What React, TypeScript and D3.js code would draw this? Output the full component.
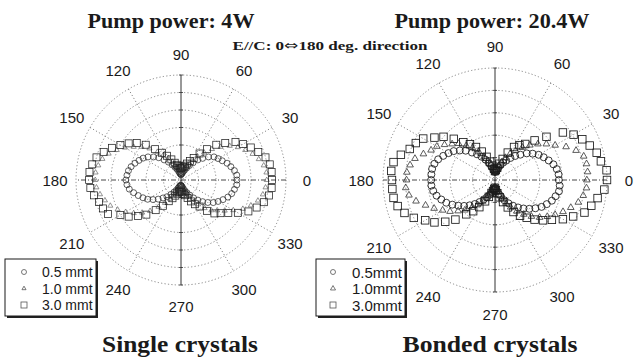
import React from 'react';
import * as d3 from 'd3';

// measurement angles (deg), 5 deg steps
const angles = d3.range(0, 360, 5);
const angleTicks = [0, 30, 60, 90, 120, 150, 180, 210, 240, 270, 300, 330];

// Single crystals, 4 W (radius in ring units, 6 rings)
const single05 = [
  3.2, 3.2, 3.1, 2.95, 2.8, 2.6, 2.45, 2.3, 2.05, 1.75, 1.5, 1.2, 0.95, 0.75, 0.6, 0.5, 0.4, 0.35,
  0.3, 0.35, 0.4, 0.5, 0.65, 0.8, 1.0, 1.25, 1.5, 1.8, 2.05, 2.3, 2.5, 2.65, 2.8, 2.95, 3.05, 3.1,
  3.15, 3.1, 3.0, 2.8, 2.6, 2.4, 2.2, 1.95, 1.7, 1.45, 1.25, 1.0, 0.8, 0.65, 0.5, 0.4, 0.35, 0.3,
  0.3, 0.35, 0.4, 0.5, 0.65, 0.8, 1.0, 1.25, 1.5, 1.75, 2.0, 2.25, 2.45, 2.65, 2.85, 3.0, 3.1, 3.2,
];
const single10 = [
  4.9, 4.9, 4.8, 4.6, 4.35, 4.05, 3.75, 3.4, 2.95, 2.5, 2.05, 1.65, 1.3, 1.05, 0.85, 0.7, 0.6, 0.55,
  0.5, 0.55, 0.65, 0.8, 0.95, 1.15, 1.45, 1.75, 2.1, 2.55, 2.95, 3.3, 3.7, 4.05, 4.4, 4.65, 4.8, 4.9,
  4.9, 4.85, 4.7, 4.5, 4.3, 4.0, 3.65, 3.3, 2.9, 2.5, 2.0, 1.6, 1.25, 1.0, 0.8, 0.65, 0.6, 0.55,
  0.5, 0.55, 0.6, 0.75, 0.95, 1.2, 1.45, 1.7, 2.1, 2.45, 2.7, 3.05, 3.45, 3.9, 4.25, 4.55, 4.75, 4.85,
];
const single30 = [
  5.2, 5.2, 5.15, 5.0, 4.7, 4.4, 4.1, 3.8, 3.3, 2.85, 2.3, 1.85, 1.45, 1.2, 1.0, 0.85, 0.75, 0.7,
  0.65, 0.7, 0.8, 0.9, 1.05, 1.3, 1.6, 1.9, 2.3, 2.85, 3.3, 3.65, 4.0, 4.35, 4.7, 5.0, 5.15, 5.25,
  5.25, 5.2, 5.05, 4.85, 4.75, 4.6, 4.0, 3.65, 3.2, 2.8, 2.25, 1.8, 1.4, 1.15, 0.95, 0.8, 0.7, 0.65,
  0.6, 0.7, 0.8, 0.9, 1.1, 1.35, 1.6, 1.85, 2.3, 2.7, 2.95, 3.3, 3.75, 4.25, 4.6, 4.9, 5.1, 5.2,
];

// Bonded crystals, 20.4 W (radius in ring units, 5 rings)
const bonded05 = [
  2.85, 2.85, 2.8, 2.7, 2.55, 2.4, 2.25, 2.05, 1.85, 1.6, 1.4, 1.2, 1.0, 0.85, 0.7, 0.55, 0.45, 0.4,
  0.35, 0.4, 0.5, 0.65, 0.8, 1.0, 1.2, 1.4, 1.6, 1.85, 2.05, 2.25, 2.4, 2.55, 2.7, 2.8, 2.85, 2.85,
  2.85, 2.85, 2.8, 2.7, 2.55, 2.4, 2.2, 2.0, 1.8, 1.6, 1.4, 1.2, 1.0, 0.85, 0.7, 0.55, 0.45, 0.4,
  0.35, 0.4, 0.5, 0.65, 0.8, 1.0, 1.2, 1.4, 1.6, 1.8, 2.0, 2.2, 2.4, 2.55, 2.7, 2.8, 2.9, 2.9,
];
const bonded10 = [
  4.1, 4.15, 4.15, 4.1, 3.85, 3.5, 3.1, 2.8, 2.5, 2.2, 1.9, 1.6, 1.35, 1.1, 0.85, 0.65, 0.5, 0.4,
  0.35, 0.4, 0.55, 0.7, 0.9, 1.15, 1.45, 1.75, 2.0, 2.3, 2.5, 2.75, 3.0, 3.15, 3.4, 3.7, 3.85, 3.95,
  3.95, 4.0, 3.9, 3.65, 3.3, 3.0, 2.7, 2.45, 2.15, 1.9, 1.6, 1.35, 1.1, 0.85, 0.65, 0.5, 0.4, 0.35,
  0.3, 0.4, 0.55, 0.7, 0.9, 1.15, 1.4, 1.7, 2.0, 2.3, 2.6, 2.85, 3.1, 3.35, 3.6, 3.85, 4.0, 4.1,
];
const bonded30 = [
  5.0, 5.0, 4.8, 4.7, 4.5, 4.3, 4.05, 3.7, 3.0, 2.5, 2.1, 1.9, 1.7, 1.35, 1.0, 0.75, 0.55, 0.45,
  0.4, 0.5, 0.65, 0.85, 1.1, 1.4, 1.7, 1.95, 2.2, 2.6, 3.0, 3.3, 3.7, 3.9, 4.05, 4.35, 4.6, 4.65,
  4.6, 4.6, 4.6, 4.5, 4.3, 4.0, 3.6, 3.3, 2.9, 2.5, 2.0, 1.7, 1.4, 1.05, 0.8, 0.6, 0.5, 0.4,
  0.35, 0.45, 0.6, 0.8, 1.05, 1.35, 1.65, 1.95, 2.2, 2.5, 2.8, 3.1, 3.5, 3.85, 4.25, 4.45, 4.65, 4.9,
];

const singleLabels = ['0.5 mmt', '1.0 mmt', '3.0 mmt'];
const bondedLabels = ['0.5mmt', '1.0mmt', '3.0mmt'];

const SERIF = '"Liberation Serif", "Times New Roman", "DejaVu Serif", serif';
const SANS = '"Liberation Sans", Arial, Helvetica, sans-serif';
const INK = '#1a1a1a';

type Shape = 'circle' | 'triangle' | 'square';

const Marker: React.FC<{ x: number; y: number; shape: Shape; size: number; color?: string; sw?: number }> = ({ x, y, shape, size, color = INK, sw = 0.8 }) => {
  if (shape === 'circle') {
    return <circle cx={x} cy={y} r={size / 2} fill="none" stroke={color} strokeWidth={sw} />;
  }
  if (shape === 'square') {
    return <rect x={x - size / 2} y={y - size / 2} width={size} height={size} fill="none" stroke={color} strokeWidth={sw} />;
  }
  const tri = d3.symbol(d3.symbolTriangle, size * size * 0.45)();
  return <path d={tri || ''} transform={`translate(${x},${y})`} fill="none" stroke={color} strokeWidth={sw} />;
};

interface PanelProps {
  cx: number;
  cy: number;
  R: number;
  rings: number;
  labelR: number;
  series: { values: number[]; shape: Shape; size: number; color?: string; sw?: number }[];
}

const PolarPanel: React.FC<PanelProps> = ({ cx, cy, R, rings, labelR, series }) => {
  const r = d3.scaleLinear().domain([0, rings]).range([0, R]);
  const rad = (deg: number) => (deg * Math.PI) / 180;
  const px = (deg: number, v: number) => cx + r(v) * Math.cos(rad(deg));
  const py = (deg: number, v: number) => cy - r(v) * Math.sin(rad(deg));
  const ringVals = d3.range(1, rings + 1);

  return (
    <g>
      {/* rings */}
      {ringVals.map(v => (
        <circle key={v} cx={cx} cy={cy} r={r(v)} fill="none" stroke="#6a6a6a" strokeWidth={0.8} strokeDasharray="1.2,2.2" />
      ))}
      {/* spokes */}
      {[30, 60, 120, 150].map(a => (
        <line key={a} x1={px(a, rings)} y1={py(a, rings)} x2={px(a + 180, rings)} y2={py(a + 180, rings)}
          stroke="#6a6a6a" strokeWidth={0.8} strokeDasharray="1.2,2.2" />
      ))}
      <line x1={px(0, rings)} y1={cy} x2={px(180, rings)} y2={cy} stroke="#333" strokeWidth={0.9} strokeDasharray="5,2,1,2" />
      <line x1={cx} y1={py(90, rings)} x2={cx} y2={py(270, rings)} stroke="#333" strokeWidth={1} />
      {ringVals.map(v => (
        <g key={'t' + v}>
          <line x1={cx - 2} x2={cx + 2} y1={py(90, v)} y2={py(90, v)} stroke="#333" strokeWidth={0.8} />
          <line x1={cx - 2} x2={cx + 2} y1={py(270, v)} y2={py(270, v)} stroke="#333" strokeWidth={0.8} />
        </g>
      ))}
      {/* angle labels */}
      {angleTicks.map(a => (
        <text key={a} x={cx + labelR * Math.cos(rad(a))} y={cy - labelR * Math.sin(rad(a))}
          textAnchor="middle" dominantBaseline="central" fontFamily={SANS} fontSize={15} fill={INK}>
          {a}
        </text>
      ))}
      {/* data */}
      {series.map((s, si) => (
        <g key={si}>
          {s.values.map((v, i) => (
            <Marker key={i} x={px(angles[i], v)} y={py(angles[i], v)} shape={s.shape} size={s.size} color={s.color} sw={s.sw} />
          ))}
        </g>
      ))}
    </g>
  );
};

const Legend: React.FC<{ x: number; y: number; w: number; h: number; labels: string[]; mx: number; tx: number; fs: number; sizes: number[] }> = ({ x, y, w, h, labels, mx, tx, fs, sizes }) => {
  const shapes: Shape[] = ['circle', 'triangle', 'square'];
  const rowY = [y + 13, y + 29.5, y + 46];
  return (
    <g>
      <rect x={x + 2} y={y + 2} width={w} height={h} fill="#222" />
      <rect x={x} y={y} width={w} height={h} fill="#fff" stroke={INK} strokeWidth={1} />
      {labels.map((l, i) => (
        <g key={l}>
          <Marker x={mx} y={rowY[i]} shape={shapes[i]} size={sizes[i]} color="#555" />
          <text x={tx} y={rowY[i]} dominantBaseline="central" fontFamily={SANS} fontSize={fs} fill={INK}>{l}</text>
        </g>
      ))}
    </g>
  );
};

export default function App() {
  return (
    <svg width={635} height={360} style={{ display: 'block', position: 'absolute', left: 0, top: 0, background: '#fff' }}>
      <rect width={635} height={360} fill="#fff" />
      <PolarPanel cx={181} cy={180} R={105} rings={6} labelR={126}
        series={[
          { values: single05, shape: 'circle', size: 6, color: '#222', sw: 0.7 },
          { values: single10, shape: 'triangle', size: 5, color: '#666', sw: 0.7 },
          { values: single30, shape: 'square', size: 7, color: '#222', sw: 0.75 },
        ]} />
      <PolarPanel cx={495} cy={180} R={112} rings={5} labelR={134}
        series={[
          { values: bonded05, shape: 'circle', size: 7, sw: 0.85 },
          { values: bonded10, shape: 'triangle', size: 6.5, color: '#333', sw: 0.8 },
          { values: bonded30, shape: 'square', size: 7.5, sw: 0.85 },
        ]} />

      <Legend x={5} y={259} w={91} h={57} labels={singleLabels} mx={24} tx={42} fs={14} sizes={[5, 4, 6]} />
      <Legend x={316} y={259} w={89} h={57} labels={bondedLabels} mx={333} tx={352} fs={15} sizes={[5, 5, 6]} />

      <text x={171} y={28} textAnchor="middle" fontFamily={SERIF} fontWeight="bold" fontSize={21} fill={INK}
        textLength={167} lengthAdjust="spacingAndGlyphs">Pump power: 4W</text>
      <text x={492} y={28} textAnchor="middle" fontFamily={SERIF} fontWeight="bold" fontSize={21} fill={INK}
        textLength={195} lengthAdjust="spacingAndGlyphs">Pump power: 20.4W</text>
      <text x={330} y={50} textAnchor="middle" fontFamily={SERIF} fontWeight="bold" fontSize={13} fill={INK}
        textLength={195} lengthAdjust="spacingAndGlyphs">
        E//C: 0<tspan fontFamily='"DejaVu Sans", sans-serif' fontWeight="normal">⇔</tspan>180 deg. direction
      </text>
      <text x={180} y={352} textAnchor="middle" fontFamily={SERIF} fontWeight="bold" fontSize={24} fill={INK}
        textLength={156} lengthAdjust="spacingAndGlyphs">Single crystals</text>
      <text x={490} y={352} textAnchor="middle" fontFamily={SERIF} fontWeight="bold" fontSize={24} fill={INK}
        textLength={175} lengthAdjust="spacingAndGlyphs">Bonded crystals</text>
    </svg>
  );
}
